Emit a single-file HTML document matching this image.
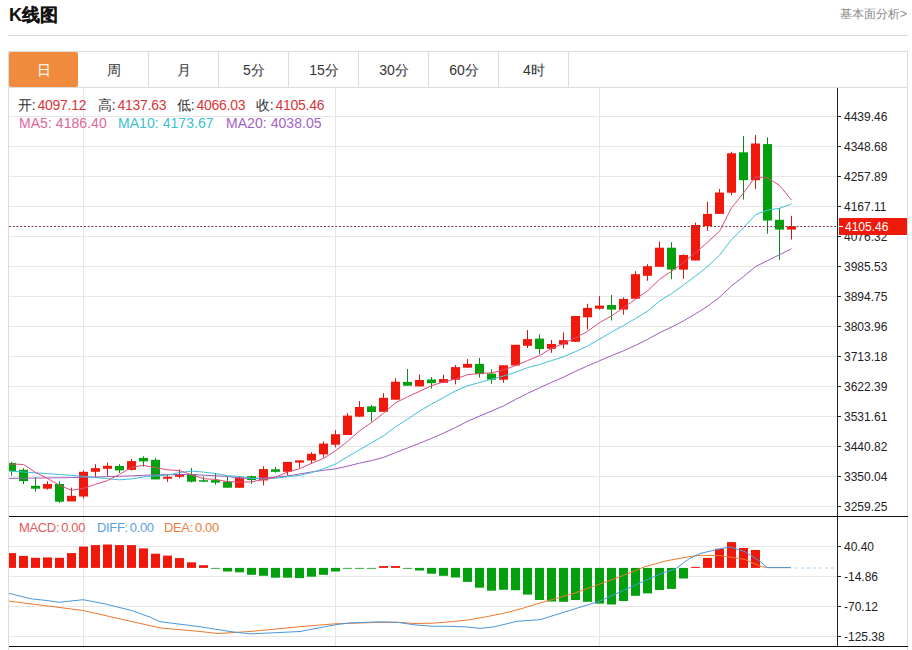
<!DOCTYPE html>
<html><head><meta charset="utf-8">
<style>
html,body{margin:0;padding:0;background:#fff;}
body{width:912px;height:650px;overflow:hidden;position:relative;font-family:"Liberation Sans",sans-serif;}
.abs{position:absolute;white-space:nowrap;}
#title{left:9px;top:4px;font-size:18px;font-weight:bold;color:#111;line-height:22px;-webkit-text-stroke:0.15px #111;}
#more{right:5px;top:6px;font-size:12px;color:#8a8a8a;line-height:16px;}
#sep{left:8px;top:35px;width:900px;height:1px;background:#d6d6d6;}
#frame{left:8px;top:51px;width:900px;height:600px;border:1px solid #dcdcdc;box-sizing:border-box;border-bottom:none;}
#tabline{left:8px;top:87px;width:900px;height:1px;background:#dcdcdc;}
.tab{position:absolute;top:52px;height:35px;width:70px;text-align:center;line-height:37px;font-size:14px;color:#333;}
.tsep{position:absolute;top:52px;height:35px;width:1px;background:#dcdcdc;}
#active{left:9px;width:69px;background:#f08a3c;color:#fff;border-radius:2px;}
svg{position:absolute;left:0;top:0;}
.ax{font-size:12px;fill:#222;font-family:"Liberation Sans",sans-serif;}
.info{position:absolute;font-size:14px;line-height:16px;letter-spacing:-0.25px;}
.c{margin-right:2px;}
</style></head><body>
<div class="abs" id="title">K线图</div>
<div class="abs" id="more">基本面分析&gt;</div>
<div class="abs" id="sep"></div>
<div class="abs" id="frame"></div>
<div class="abs" id="tabline"></div>
<div class="tab" id="active">日</div>
<div class="tab" style="left:79px">周</div>
<div class="tab" style="left:149px">月</div>
<div class="tab" style="left:219px">5分</div>
<div class="tab" style="left:289px">15分</div>
<div class="tab" style="left:359px">30分</div>
<div class="tab" style="left:429px">60分</div>
<div class="tab" style="left:499px">4时</div>
<div class="tsep" style="left:148px"></div>
<div class="tsep" style="left:218px"></div>
<div class="tsep" style="left:288px"></div>
<div class="tsep" style="left:358px"></div>
<div class="tsep" style="left:428px"></div>
<div class="tsep" style="left:498px"></div>
<div class="tsep" style="left:568px"></div>
<svg width="912" height="650">
<line x1="9" y1="116.5" x2="837" y2="116.5" stroke="#e6e6e6" stroke-width="1"/>
<line x1="9" y1="146.5" x2="837" y2="146.5" stroke="#e6e6e6" stroke-width="1"/>
<line x1="9" y1="176.5" x2="837" y2="176.5" stroke="#e6e6e6" stroke-width="1"/>
<line x1="9" y1="206.5" x2="837" y2="206.5" stroke="#e6e6e6" stroke-width="1"/>
<line x1="9" y1="236.5" x2="837" y2="236.5" stroke="#e6e6e6" stroke-width="1"/>
<line x1="9" y1="266.5" x2="837" y2="266.5" stroke="#e6e6e6" stroke-width="1"/>
<line x1="9" y1="296.5" x2="837" y2="296.5" stroke="#e6e6e6" stroke-width="1"/>
<line x1="9" y1="326.5" x2="837" y2="326.5" stroke="#e6e6e6" stroke-width="1"/>
<line x1="9" y1="356.5" x2="837" y2="356.5" stroke="#e6e6e6" stroke-width="1"/>
<line x1="9" y1="386.5" x2="837" y2="386.5" stroke="#e6e6e6" stroke-width="1"/>
<line x1="9" y1="416.5" x2="837" y2="416.5" stroke="#e6e6e6" stroke-width="1"/>
<line x1="9" y1="446.5" x2="837" y2="446.5" stroke="#e6e6e6" stroke-width="1"/>
<line x1="9" y1="476.5" x2="837" y2="476.5" stroke="#e6e6e6" stroke-width="1"/>
<line x1="9" y1="506.5" x2="837" y2="506.5" stroke="#e6e6e6" stroke-width="1"/>
<line x1="83.5" y1="88" x2="83.5" y2="646" stroke="#e6e6e6" stroke-width="1"/>
<line x1="335.5" y1="88" x2="335.5" y2="646" stroke="#e6e6e6" stroke-width="1"/>
<line x1="599.5" y1="88" x2="599.5" y2="646" stroke="#e6e6e6" stroke-width="1"/>
<line x1="9" y1="546.5" x2="837" y2="546.5" stroke="#e6e6e6" stroke-width="1"/>
<line x1="9" y1="576.5" x2="837" y2="576.5" stroke="#e6e6e6" stroke-width="1"/>
<line x1="9" y1="606.5" x2="837" y2="606.5" stroke="#e6e6e6" stroke-width="1"/>
<line x1="9" y1="636.5" x2="837" y2="636.5" stroke="#e6e6e6" stroke-width="1"/>
<line x1="11.5" y1="461.8" x2="11.5" y2="475.6" stroke="#0a8a14" stroke-width="1"/>
<rect x="9.0" y="462.9" width="7.0" height="8.1" fill="#03a00e"/>
<line x1="23.5" y1="468.2" x2="23.5" y2="484.1" stroke="#0a8a14" stroke-width="1"/>
<rect x="19.0" y="469.8" width="9.0" height="11.3" fill="#03a00e"/>
<line x1="35.5" y1="477.2" x2="35.5" y2="491.7" stroke="#0a8a14" stroke-width="1"/>
<rect x="31.0" y="485.8" width="9.0" height="2.9" fill="#03a00e"/>
<line x1="47.5" y1="481.4" x2="47.5" y2="489.7" stroke="#d01a10" stroke-width="1"/>
<rect x="43.0" y="484.0" width="9.0" height="4.7" fill="#f0180a"/>
<line x1="59.5" y1="481.4" x2="59.5" y2="503.0" stroke="#0a8a14" stroke-width="1"/>
<rect x="55.0" y="484.0" width="9.0" height="17.7" fill="#03a00e"/>
<line x1="71.5" y1="487.6" x2="71.5" y2="501.4" stroke="#d01a10" stroke-width="1"/>
<rect x="67.0" y="495.8" width="9.0" height="5.6" fill="#f0180a"/>
<line x1="83.5" y1="470.5" x2="83.5" y2="498.5" stroke="#d01a10" stroke-width="1"/>
<rect x="79.0" y="471.8" width="9.0" height="24.7" fill="#f0180a"/>
<line x1="95.5" y1="464.2" x2="95.5" y2="477.3" stroke="#d01a10" stroke-width="1"/>
<rect x="91.0" y="468.1" width="9.0" height="3.7" fill="#f0180a"/>
<line x1="107.5" y1="462.5" x2="107.5" y2="476.2" stroke="#d01a10" stroke-width="1"/>
<rect x="103.0" y="465.8" width="9.0" height="3.0" fill="#f0180a"/>
<line x1="119.5" y1="464.2" x2="119.5" y2="473.1" stroke="#0a8a14" stroke-width="1"/>
<rect x="115.0" y="466.0" width="9.0" height="4.4" fill="#03a00e"/>
<line x1="131.5" y1="459.0" x2="131.5" y2="470.6" stroke="#d01a10" stroke-width="1"/>
<rect x="127.0" y="461.1" width="9.0" height="8.8" fill="#f0180a"/>
<line x1="143.5" y1="456.3" x2="143.5" y2="466.7" stroke="#0a8a14" stroke-width="1"/>
<rect x="139.0" y="457.9" width="9.0" height="3.5" fill="#03a00e"/>
<line x1="155.5" y1="457.8" x2="155.5" y2="479.4" stroke="#0a8a14" stroke-width="1"/>
<rect x="151.0" y="459.8" width="9.0" height="19.6" fill="#03a00e"/>
<line x1="167.5" y1="474.3" x2="167.5" y2="481.9" stroke="#d01a10" stroke-width="1"/>
<rect x="163.0" y="476.8" width="9.0" height="1.9" fill="#f0180a"/>
<line x1="179.5" y1="469.4" x2="179.5" y2="478.2" stroke="#d01a10" stroke-width="1"/>
<rect x="175.0" y="474.1" width="9.0" height="2.7" fill="#f0180a"/>
<line x1="191.5" y1="468.0" x2="191.5" y2="482.4" stroke="#0a8a14" stroke-width="1"/>
<rect x="187.0" y="474.1" width="9.0" height="7.6" fill="#03a00e"/>
<line x1="203.5" y1="476.4" x2="203.5" y2="482.0" stroke="#0a8a14" stroke-width="1"/>
<rect x="199.0" y="480.2" width="9.0" height="1.5" fill="#03a00e"/>
<line x1="215.5" y1="473.1" x2="215.5" y2="484.7" stroke="#0a8a14" stroke-width="1"/>
<rect x="211.0" y="480.1" width="9.0" height="2.5" fill="#03a00e"/>
<line x1="227.5" y1="476.8" x2="227.5" y2="487.7" stroke="#0a8a14" stroke-width="1"/>
<rect x="223.0" y="481.7" width="9.0" height="6.0" fill="#03a00e"/>
<line x1="239.5" y1="476.5" x2="239.5" y2="487.8" stroke="#d01a10" stroke-width="1"/>
<rect x="235.0" y="477.4" width="9.0" height="10.4" fill="#f0180a"/>
<line x1="251.5" y1="475.5" x2="251.5" y2="484.1" stroke="#0a8a14" stroke-width="1"/>
<rect x="247.0" y="476.2" width="9.0" height="3.9" fill="#03a00e"/>
<line x1="263.5" y1="466.3" x2="263.5" y2="485.4" stroke="#d01a10" stroke-width="1"/>
<rect x="259.0" y="469.1" width="9.0" height="11.3" fill="#f0180a"/>
<line x1="275.5" y1="466.9" x2="275.5" y2="472.7" stroke="#0a8a14" stroke-width="1"/>
<rect x="271.0" y="469.3" width="9.0" height="2.5" fill="#03a00e"/>
<line x1="287.5" y1="461.9" x2="287.5" y2="475.5" stroke="#d01a10" stroke-width="1"/>
<rect x="283.0" y="461.9" width="9.0" height="9.9" fill="#f0180a"/>
<line x1="299.5" y1="460.4" x2="299.5" y2="467.8" stroke="#d01a10" stroke-width="1"/>
<rect x="295.0" y="460.4" width="9.0" height="2.2" fill="#f0180a"/>
<line x1="311.5" y1="452.2" x2="311.5" y2="464.0" stroke="#d01a10" stroke-width="1"/>
<rect x="307.0" y="453.8" width="9.0" height="6.7" fill="#f0180a"/>
<line x1="323.5" y1="441.4" x2="323.5" y2="457.6" stroke="#d01a10" stroke-width="1"/>
<rect x="319.0" y="443.6" width="9.0" height="10.8" fill="#f0180a"/>
<line x1="335.5" y1="430.1" x2="335.5" y2="447.4" stroke="#d01a10" stroke-width="1"/>
<rect x="331.0" y="434.2" width="9.0" height="10.5" fill="#f0180a"/>
<line x1="347.5" y1="413.1" x2="347.5" y2="435.0" stroke="#d01a10" stroke-width="1"/>
<rect x="343.0" y="415.6" width="9.0" height="19.4" fill="#f0180a"/>
<line x1="359.5" y1="401.1" x2="359.5" y2="416.7" stroke="#d01a10" stroke-width="1"/>
<rect x="355.0" y="407.0" width="9.0" height="9.7" fill="#f0180a"/>
<line x1="371.5" y1="405.0" x2="371.5" y2="421.7" stroke="#0a8a14" stroke-width="1"/>
<rect x="367.0" y="406.4" width="9.0" height="5.6" fill="#03a00e"/>
<line x1="383.5" y1="393.2" x2="383.5" y2="411.8" stroke="#d01a10" stroke-width="1"/>
<rect x="379.0" y="397.8" width="9.0" height="14.0" fill="#f0180a"/>
<line x1="395.5" y1="378.1" x2="395.5" y2="399.7" stroke="#d01a10" stroke-width="1"/>
<rect x="391.0" y="381.7" width="9.0" height="18.0" fill="#f0180a"/>
<line x1="407.5" y1="369.0" x2="407.5" y2="385.7" stroke="#0a8a14" stroke-width="1"/>
<rect x="403.0" y="381.9" width="9.0" height="3.8" fill="#03a00e"/>
<line x1="419.5" y1="374.4" x2="419.5" y2="386.4" stroke="#d01a10" stroke-width="1"/>
<rect x="415.0" y="380.0" width="9.0" height="6.4" fill="#f0180a"/>
<line x1="431.5" y1="377.1" x2="431.5" y2="388.6" stroke="#0a8a14" stroke-width="1"/>
<rect x="427.0" y="379.5" width="9.0" height="3.7" fill="#03a00e"/>
<line x1="443.5" y1="374.6" x2="443.5" y2="382.8" stroke="#d01a10" stroke-width="1"/>
<rect x="439.0" y="379.1" width="9.0" height="3.7" fill="#f0180a"/>
<line x1="455.5" y1="365.0" x2="455.5" y2="384.4" stroke="#d01a10" stroke-width="1"/>
<rect x="451.0" y="367.1" width="9.0" height="12.6" fill="#f0180a"/>
<line x1="467.5" y1="359.1" x2="467.5" y2="368.2" stroke="#d01a10" stroke-width="1"/>
<rect x="463.0" y="363.9" width="9.0" height="3.8" fill="#f0180a"/>
<line x1="479.5" y1="358.0" x2="479.5" y2="377.6" stroke="#0a8a14" stroke-width="1"/>
<rect x="475.0" y="363.9" width="9.0" height="10.2" fill="#03a00e"/>
<line x1="491.5" y1="369.3" x2="491.5" y2="383.8" stroke="#0a8a14" stroke-width="1"/>
<rect x="487.0" y="373.6" width="9.0" height="6.1" fill="#03a00e"/>
<line x1="503.5" y1="365.3" x2="503.5" y2="382.7" stroke="#d01a10" stroke-width="1"/>
<rect x="499.0" y="365.3" width="9.0" height="14.4" fill="#f0180a"/>
<line x1="515.5" y1="344.8" x2="515.5" y2="365.5" stroke="#d01a10" stroke-width="1"/>
<rect x="511.0" y="344.8" width="9.0" height="20.7" fill="#f0180a"/>
<line x1="527.5" y1="330.0" x2="527.5" y2="348.0" stroke="#d01a10" stroke-width="1"/>
<rect x="523.0" y="339.1" width="9.0" height="6.7" fill="#f0180a"/>
<line x1="539.5" y1="334.3" x2="539.5" y2="354.2" stroke="#0a8a14" stroke-width="1"/>
<rect x="535.0" y="338.6" width="9.0" height="10.4" fill="#03a00e"/>
<line x1="551.5" y1="340.0" x2="551.5" y2="352.9" stroke="#d01a10" stroke-width="1"/>
<rect x="547.0" y="344.0" width="9.0" height="4.8" fill="#f0180a"/>
<line x1="563.5" y1="332.5" x2="563.5" y2="348.6" stroke="#d01a10" stroke-width="1"/>
<rect x="559.0" y="340.2" width="9.0" height="4.3" fill="#f0180a"/>
<line x1="575.5" y1="316.0" x2="575.5" y2="341.8" stroke="#d01a10" stroke-width="1"/>
<rect x="571.0" y="316.0" width="9.0" height="25.8" fill="#f0180a"/>
<line x1="587.5" y1="303.8" x2="587.5" y2="329.6" stroke="#d01a10" stroke-width="1"/>
<rect x="583.0" y="307.9" width="9.0" height="9.4" fill="#f0180a"/>
<line x1="599.5" y1="296.2" x2="599.5" y2="309.6" stroke="#d01a10" stroke-width="1"/>
<rect x="595.0" y="305.6" width="9.0" height="3.1" fill="#f0180a"/>
<line x1="611.5" y1="295.0" x2="611.5" y2="320.5" stroke="#0a8a14" stroke-width="1"/>
<rect x="607.0" y="305.0" width="9.0" height="4.6" fill="#03a00e"/>
<line x1="623.5" y1="297.3" x2="623.5" y2="314.6" stroke="#d01a10" stroke-width="1"/>
<rect x="619.0" y="299.0" width="9.0" height="10.6" fill="#f0180a"/>
<line x1="635.5" y1="271.2" x2="635.5" y2="298.7" stroke="#d01a10" stroke-width="1"/>
<rect x="631.0" y="274.2" width="9.0" height="24.5" fill="#f0180a"/>
<line x1="647.5" y1="264.2" x2="647.5" y2="280.8" stroke="#d01a10" stroke-width="1"/>
<rect x="643.0" y="266.2" width="9.0" height="9.6" fill="#f0180a"/>
<line x1="659.5" y1="241.5" x2="659.5" y2="266.8" stroke="#d01a10" stroke-width="1"/>
<rect x="655.0" y="247.7" width="9.0" height="19.1" fill="#f0180a"/>
<line x1="671.5" y1="242.2" x2="671.5" y2="279.2" stroke="#0a8a14" stroke-width="1"/>
<rect x="667.0" y="247.7" width="9.0" height="21.9" fill="#03a00e"/>
<line x1="683.5" y1="254.2" x2="683.5" y2="278.8" stroke="#d01a10" stroke-width="1"/>
<rect x="679.0" y="255.0" width="9.0" height="14.6" fill="#f0180a"/>
<line x1="695.5" y1="222.6" x2="695.5" y2="260.5" stroke="#d01a10" stroke-width="1"/>
<rect x="691.0" y="225.0" width="9.0" height="35.5" fill="#f0180a"/>
<line x1="707.5" y1="201.9" x2="707.5" y2="230.9" stroke="#d01a10" stroke-width="1"/>
<rect x="703.0" y="213.9" width="9.0" height="12.1" fill="#f0180a"/>
<line x1="719.5" y1="189.0" x2="719.5" y2="213.9" stroke="#d01a10" stroke-width="1"/>
<rect x="715.0" y="192.5" width="9.0" height="21.4" fill="#f0180a"/>
<line x1="731.5" y1="151.8" x2="731.5" y2="195.2" stroke="#d01a10" stroke-width="1"/>
<rect x="727.0" y="153.3" width="9.0" height="39.4" fill="#f0180a"/>
<line x1="743.5" y1="136.1" x2="743.5" y2="199.5" stroke="#0a8a14" stroke-width="1"/>
<rect x="739.0" y="152.3" width="9.0" height="27.9" fill="#03a00e"/>
<line x1="755.5" y1="135.1" x2="755.5" y2="188.8" stroke="#d01a10" stroke-width="1"/>
<rect x="751.0" y="143.5" width="9.0" height="36.7" fill="#f0180a"/>
<line x1="767.5" y1="137.3" x2="767.5" y2="233.7" stroke="#0a8a14" stroke-width="1"/>
<rect x="763.0" y="144.1" width="9.0" height="76.4" fill="#03a00e"/>
<line x1="779.5" y1="208.2" x2="779.5" y2="259.9" stroke="#0a8a14" stroke-width="1"/>
<rect x="775.0" y="219.8" width="9.0" height="9.8" fill="#03a00e"/>
<line x1="791.5" y1="215.8" x2="791.5" y2="239.5" stroke="#d01a10" stroke-width="1"/>
<rect x="787.0" y="226.3" width="9.0" height="3.3" fill="#f0180a"/>
<polyline points="9.0,478.4 23.5,478.2 35.5,478.1 47.5,477.9 59.5,477.8 71.5,477.6 83.5,477.3 95.5,477.0 107.5,476.6 119.5,476.3 131.5,475.8 143.5,475.3 155.5,474.8 167.5,474.7 179.5,474.6 191.5,474.5 203.5,475.2 215.5,475.8 227.5,476.5 239.5,478.1 251.5,478.6 263.5,478.0 275.5,477.1 287.5,476.0 299.5,474.0 311.5,471.9 323.5,470.4 335.5,468.8 347.5,466.2 359.5,463.1 371.5,460.6 383.5,457.4 395.5,452.6 407.5,448.0 419.5,443.3 431.5,438.4 443.5,433.2 455.5,427.5 467.5,421.3 479.5,416.1 491.5,411.1 503.5,405.9 515.5,399.5 527.5,393.4 539.5,387.8 551.5,382.3 563.5,377.2 575.5,371.3 587.5,365.9 599.5,360.8 611.5,355.7 623.5,350.8 635.5,345.4 647.5,339.4 659.5,332.8 671.5,327.1 683.5,320.9 695.5,313.8 707.5,306.3 719.5,297.2 731.5,285.9 743.5,276.6 755.5,266.6 767.5,260.6 779.5,254.7 791.5,248.8" fill="none" stroke="#a05cc0" stroke-width="1"/>
<polyline points="9.0,471.1 23.5,472.0 35.5,472.8 47.5,473.6 59.5,474.5 71.5,475.4 83.5,476.3 95.5,477.5 107.5,478.7 119.5,479.8 131.5,478.9 143.5,476.9 155.5,475.9 167.5,475.2 179.5,472.5 191.5,471.1 203.5,472.1 215.5,473.5 227.5,475.7 239.5,476.4 251.5,478.3 263.5,479.1 275.5,478.3 287.5,476.8 299.5,475.4 311.5,472.6 323.5,468.8 335.5,464.0 347.5,456.8 359.5,449.8 371.5,442.9 383.5,435.8 395.5,426.8 407.5,419.2 419.5,411.1 431.5,404.1 443.5,397.6 455.5,390.9 467.5,385.8 479.5,382.5 491.5,379.2 503.5,376.0 515.5,372.3 527.5,367.6 539.5,364.5 551.5,360.6 563.5,356.7 575.5,351.6 587.5,346.0 599.5,339.2 611.5,332.1 623.5,325.5 635.5,318.5 647.5,311.2 659.5,301.0 671.5,293.6 683.5,285.1 695.5,276.0 707.5,266.6 719.5,255.3 731.5,239.6 743.5,227.8 755.5,214.7 767.5,210.1 779.5,208.3 791.5,204.0" fill="none" stroke="#40c0d8" stroke-width="1"/>
<polyline points="9.0,463.9 23.5,464.5 35.5,472.5 47.5,478.5 59.5,485.3 71.5,490.3 83.5,488.4 95.5,484.3 107.5,480.6 119.5,474.4 131.5,467.4 143.5,465.4 155.5,467.6 167.5,469.8 179.5,470.6 191.5,474.7 203.5,478.7 215.5,479.4 227.5,481.6 239.5,482.2 251.5,481.9 263.5,479.4 275.5,477.2 287.5,472.1 299.5,468.7 311.5,463.4 323.5,458.3 335.5,450.8 347.5,441.5 359.5,430.8 371.5,422.5 383.5,413.3 395.5,402.8 407.5,396.8 419.5,391.4 431.5,385.7 443.5,381.9 455.5,379.0 467.5,374.7 479.5,373.5 491.5,372.8 503.5,370.0 515.5,365.6 527.5,360.6 539.5,355.6 551.5,348.4 563.5,343.4 575.5,337.7 587.5,331.4 599.5,322.7 611.5,315.9 623.5,307.6 635.5,299.3 647.5,290.9 659.5,279.3 671.5,271.3 683.5,262.5 695.5,252.7 707.5,242.2 719.5,231.2 731.5,207.9 743.5,193.0 755.5,176.7 767.5,178.0 779.5,185.4 791.5,200.0" fill="none" stroke="#e04c7c" stroke-width="1"/>
<line x1="9" y1="226.5" x2="837" y2="226.5" stroke="#7c3c44" stroke-width="1" stroke-dasharray="2,1.75"/>
<rect x="9.0" y="553.1" width="7.0" height="14.8" fill="#f0180a"/>
<rect x="19.0" y="555.9" width="9.0" height="12.0" fill="#f0180a"/>
<rect x="31.0" y="557.8" width="9.0" height="10.1" fill="#f0180a"/>
<rect x="43.0" y="557.4" width="9.0" height="10.5" fill="#f0180a"/>
<rect x="55.0" y="557.8" width="9.0" height="10.1" fill="#f0180a"/>
<rect x="67.0" y="553.1" width="9.0" height="14.8" fill="#f0180a"/>
<rect x="79.0" y="546.6" width="9.0" height="21.3" fill="#f0180a"/>
<rect x="91.0" y="545.1" width="9.0" height="22.8" fill="#f0180a"/>
<rect x="103.0" y="544.5" width="9.0" height="23.4" fill="#f0180a"/>
<rect x="115.0" y="545.1" width="9.0" height="22.8" fill="#f0180a"/>
<rect x="127.0" y="545.1" width="9.0" height="22.8" fill="#f0180a"/>
<rect x="139.0" y="548.4" width="9.0" height="19.5" fill="#f0180a"/>
<rect x="151.0" y="553.7" width="9.0" height="14.2" fill="#f0180a"/>
<rect x="163.0" y="555.6" width="9.0" height="12.3" fill="#f0180a"/>
<rect x="175.0" y="558.1" width="9.0" height="9.8" fill="#f0180a"/>
<rect x="187.0" y="562.3" width="9.0" height="5.6" fill="#f0180a"/>
<rect x="199.0" y="565.2" width="9.0" height="2.7" fill="#f0180a"/>
<rect x="211.0" y="567.9" width="9.0" height="0.8" fill="#03a00e"/>
<rect x="223.0" y="567.9" width="9.0" height="3.6" fill="#03a00e"/>
<rect x="235.0" y="567.9" width="9.0" height="4.4" fill="#03a00e"/>
<rect x="247.0" y="567.9" width="9.0" height="6.9" fill="#03a00e"/>
<rect x="259.0" y="567.9" width="9.0" height="7.9" fill="#03a00e"/>
<rect x="271.0" y="567.9" width="9.0" height="9.8" fill="#03a00e"/>
<rect x="283.0" y="567.9" width="9.0" height="9.8" fill="#03a00e"/>
<rect x="295.0" y="567.9" width="9.0" height="10.2" fill="#03a00e"/>
<rect x="307.0" y="567.9" width="9.0" height="8.8" fill="#03a00e"/>
<rect x="319.0" y="567.9" width="9.0" height="6.9" fill="#03a00e"/>
<rect x="331.0" y="567.9" width="9.0" height="3.6" fill="#03a00e"/>
<rect x="343.0" y="567.9" width="9.0" height="0.8" fill="#03a00e"/>
<rect x="355.0" y="567.9" width="9.0" height="0.8" fill="#03a00e"/>
<rect x="367.0" y="567.9" width="9.0" height="0.8" fill="#03a00e"/>
<rect x="379.0" y="566.1" width="9.0" height="1.8" fill="#f0180a"/>
<rect x="391.0" y="566.0" width="9.0" height="1.9" fill="#f0180a"/>
<rect x="403.0" y="567.9" width="9.0" height="0.8" fill="#03a00e"/>
<rect x="415.0" y="567.9" width="9.0" height="2.6" fill="#03a00e"/>
<rect x="427.0" y="567.9" width="9.0" height="5.8" fill="#03a00e"/>
<rect x="439.0" y="567.9" width="9.0" height="7.9" fill="#03a00e"/>
<rect x="451.0" y="567.9" width="9.0" height="9.6" fill="#03a00e"/>
<rect x="463.0" y="567.9" width="9.0" height="14.0" fill="#03a00e"/>
<rect x="475.0" y="567.9" width="9.0" height="19.8" fill="#03a00e"/>
<rect x="487.0" y="567.9" width="9.0" height="22.8" fill="#03a00e"/>
<rect x="499.0" y="567.9" width="9.0" height="21.9" fill="#03a00e"/>
<rect x="511.0" y="567.9" width="9.0" height="22.3" fill="#03a00e"/>
<rect x="523.0" y="567.9" width="9.0" height="26.7" fill="#03a00e"/>
<rect x="535.0" y="567.9" width="9.0" height="32.1" fill="#03a00e"/>
<rect x="547.0" y="567.9" width="9.0" height="33.6" fill="#03a00e"/>
<rect x="559.0" y="567.9" width="9.0" height="33.9" fill="#03a00e"/>
<rect x="571.0" y="567.9" width="9.0" height="32.1" fill="#03a00e"/>
<rect x="583.0" y="567.9" width="9.0" height="33.9" fill="#03a00e"/>
<rect x="595.0" y="567.9" width="9.0" height="35.7" fill="#03a00e"/>
<rect x="607.0" y="567.9" width="9.0" height="36.6" fill="#03a00e"/>
<rect x="619.0" y="567.9" width="9.0" height="33.1" fill="#03a00e"/>
<rect x="631.0" y="567.9" width="9.0" height="27.9" fill="#03a00e"/>
<rect x="643.0" y="567.9" width="9.0" height="25.5" fill="#03a00e"/>
<rect x="655.0" y="567.9" width="9.0" height="22.1" fill="#03a00e"/>
<rect x="667.0" y="567.9" width="9.0" height="21.0" fill="#03a00e"/>
<rect x="679.0" y="567.9" width="9.0" height="10.6" fill="#03a00e"/>
<rect x="691.0" y="566.9" width="9.0" height="1.0" fill="#f0180a"/>
<rect x="703.0" y="557.9" width="9.0" height="10.0" fill="#f0180a"/>
<rect x="715.0" y="548.8" width="9.0" height="19.1" fill="#f0180a"/>
<rect x="727.0" y="542.1" width="9.0" height="25.8" fill="#f0180a"/>
<rect x="739.0" y="548.0" width="9.0" height="19.9" fill="#f0180a"/>
<rect x="751.0" y="550.0" width="9.0" height="17.9" fill="#f0180a"/>
<polyline points="9.0,601.1 83.3,610.5 122.8,619.5 160.0,627.9 200.0,631.5 218.0,633.5 250.0,631.5 300.0,626.7 335.0,623.8 380.0,622.3 397.5,622.3 415.0,623.5 432.6,623.2 450.0,621.8 467.7,620.0 485.0,617.0 502.8,613.5 520.0,609.1 540.0,603.0 575.0,593.0 599.6,584.2 623.5,575.4 645.0,566.7 666.0,560.9 689.0,556.7 700.0,555.3 720.0,555.6 745.0,559.4 760.0,566.2 767.0,567.6 791.0,567.6" fill="none" stroke="#ec7a30" stroke-width="1"/>
<polyline points="9.0,593.4 31.6,598.9 47.0,600.5 58.8,602.3 83.3,599.7 105.0,603.9 131.6,610.5 150.0,617.1 160.0,621.7 200.0,626.7 230.0,631.5 250.0,633.9 300.0,631.5 335.0,624.8 350.0,622.9 380.0,621.8 397.5,622.3 415.0,624.9 432.6,626.3 450.0,626.3 467.7,627.0 480.0,628.4 494.0,626.9 517.0,621.3 540.0,619.7 575.0,608.8 599.6,601.2 623.5,590.4 645.0,580.7 663.0,572.8 675.0,569.3 689.0,558.8 700.0,553.5 720.0,548.8 730.0,546.9 745.0,551.7 760.0,561.3 767.0,567.6 791.0,567.6" fill="none" stroke="#4a98e0" stroke-width="1"/>
<line x1="795" y1="568" x2="837" y2="568" stroke="#a8d0f0" stroke-width="1" stroke-dasharray="3,3"/>
<line x1="837.5" y1="88" x2="837.5" y2="646" stroke="#222" stroke-width="1"/>
<line x1="837" y1="116.5" x2="841" y2="116.5" stroke="#222" stroke-width="1"/>
<text x="844" y="120.7" class="ax">4439.46</text>
<line x1="837" y1="146.5" x2="841" y2="146.5" stroke="#222" stroke-width="1"/>
<text x="844" y="150.7" class="ax">4348.68</text>
<line x1="837" y1="176.5" x2="841" y2="176.5" stroke="#222" stroke-width="1"/>
<text x="844" y="180.7" class="ax">4257.89</text>
<line x1="837" y1="206.5" x2="841" y2="206.5" stroke="#222" stroke-width="1"/>
<text x="844" y="210.7" class="ax">4167.11</text>
<line x1="837" y1="236.5" x2="841" y2="236.5" stroke="#222" stroke-width="1"/>
<text x="844" y="240.7" class="ax">4076.32</text>
<line x1="837" y1="266.5" x2="841" y2="266.5" stroke="#222" stroke-width="1"/>
<text x="844" y="270.7" class="ax">3985.53</text>
<line x1="837" y1="296.5" x2="841" y2="296.5" stroke="#222" stroke-width="1"/>
<text x="844" y="300.7" class="ax">3894.75</text>
<line x1="837" y1="326.5" x2="841" y2="326.5" stroke="#222" stroke-width="1"/>
<text x="844" y="330.7" class="ax">3803.96</text>
<line x1="837" y1="356.5" x2="841" y2="356.5" stroke="#222" stroke-width="1"/>
<text x="844" y="360.7" class="ax">3713.18</text>
<line x1="837" y1="386.5" x2="841" y2="386.5" stroke="#222" stroke-width="1"/>
<text x="844" y="390.7" class="ax">3622.39</text>
<line x1="837" y1="416.5" x2="841" y2="416.5" stroke="#222" stroke-width="1"/>
<text x="844" y="420.7" class="ax">3531.61</text>
<line x1="837" y1="446.5" x2="841" y2="446.5" stroke="#222" stroke-width="1"/>
<text x="844" y="450.7" class="ax">3440.82</text>
<line x1="837" y1="476.5" x2="841" y2="476.5" stroke="#222" stroke-width="1"/>
<text x="844" y="480.7" class="ax">3350.04</text>
<line x1="837" y1="506.5" x2="841" y2="506.5" stroke="#222" stroke-width="1"/>
<text x="844" y="510.7" class="ax">3259.25</text>
<line x1="837" y1="546.5" x2="841" y2="546.5" stroke="#222" stroke-width="1"/>
<text x="844" y="550.7" class="ax">40.40</text>
<line x1="837" y1="576.5" x2="841" y2="576.5" stroke="#222" stroke-width="1"/>
<text x="844" y="580.7" class="ax">-14.86</text>
<line x1="837" y1="606.5" x2="841" y2="606.5" stroke="#222" stroke-width="1"/>
<text x="844" y="610.7" class="ax">-70.12</text>
<line x1="837" y1="636.5" x2="841" y2="636.5" stroke="#222" stroke-width="1"/>
<text x="844" y="640.7" class="ax">-125.38</text>
<rect x="839" y="218" width="68" height="17" fill="#ee1a0c"/>
<line x1="839" y1="226.5" x2="843" y2="226.5" stroke="#fff" stroke-width="1"/>
<text x="845" y="231" class="ax" style="fill:#fff">4105.46</text>
<line x1="9" y1="516.5" x2="908" y2="516.5" stroke="#111" stroke-width="1"/>
<line x1="9" y1="646.5" x2="908" y2="646.5" stroke="#111" stroke-width="1"/>
</svg>
<div class="info" style="left:18px;top:96.5px;color:#333">开<span class="c">:</span><span style="color:#d8363c">4097.12</span></div>
<div class="info" style="left:98px;top:96.5px;color:#333">高<span class="c">:</span><span style="color:#d8363c">4137.63</span></div>
<div class="info" style="left:177px;top:96.5px;color:#333">低<span class="c">:</span><span style="color:#d8363c">4066.03</span></div>
<div class="info" style="left:256px;top:96.5px;color:#333">收<span class="c">:</span><span style="color:#d8363c">4105.46</span></div>
<div class="info" style="left:19px;top:114.5px;color:#e0659a;letter-spacing:0.05px">MA5: 4186.40</div>
<div class="info" style="left:118px;top:114.5px;color:#3cbfd0;letter-spacing:0.05px">MA10: 4173.67</div>
<div class="info" style="left:226px;top:114.5px;color:#a35fc5;letter-spacing:0.05px">MA20: 4038.05</div>
<div class="info" style="left:19px;top:519.5px;color:#e05a5a;font-size:13px;letter-spacing:-0.35px">MACD<span class="c">:</span><span>0.00</span></div>
<div class="info" style="left:97px;top:519.5px;color:#5aa0e0;font-size:13px;letter-spacing:-0.35px">DIFF<span class="c">:</span><span>0.00</span></div>
<div class="info" style="left:164px;top:519.5px;color:#e8823a;font-size:13px;letter-spacing:-0.35px">DEA<span class="c">:</span><span>0.00</span></div>
</body></html>
